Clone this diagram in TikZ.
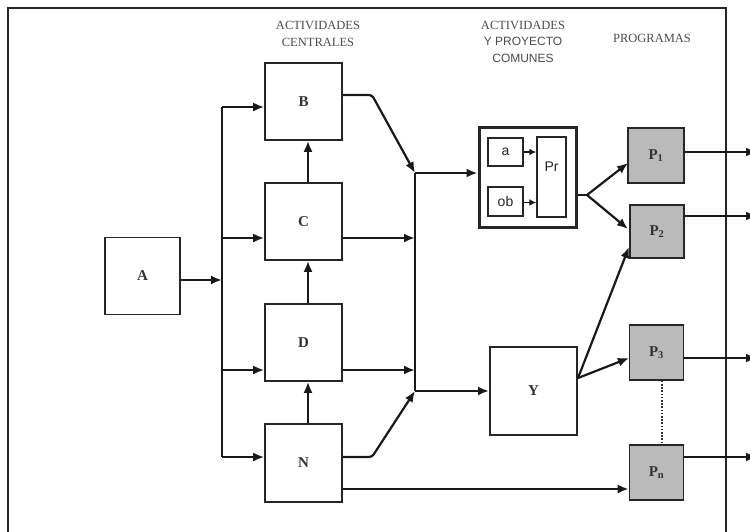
\documentclass[tikz,border=0pt]{standalone}
\usepackage{fontspec}
\setmainfont{Liberation Serif}
\newfontfamily\arialf{Liberation Sans}
\usetikzlibrary{arrows.meta}
\begin{document}
\begin{tikzpicture}[x=1pt,y=-1pt,
  blk/.style={draw=black!85,line width=1.6pt,fill=white,inner sep=0pt,
    font=\fontsize{15}{17}\selectfont\bfseries,text=black!80},
  prog/.style={blk,fill=black!27},
  inner/.style={draw=black!85,line width=1.5pt,fill=white,inner sep=0pt,
    font=\arialf\fontsize{14}{16}\selectfont,text=black!85},
  wire/.style={line width=2.2pt,black!90},
  conn/.style={wire,-{Latex[length=11pt,width=9pt]}},
  hdr/.style={text=black!70,align=center,font=\fontsize{12.5}{16.5}\selectfont}
]
\useasboundingbox (0,0) rectangle (750,531);
% frame
\draw[line width=2.2pt,black!85] (8,545) -- (8,8) -- (726,8) -- (726,545);
% headers
\node[hdr] (h1) at (318,34) {ACTIVIDADES\\CENTRALES};
\node[hdr] (h2) at (523,41.5) {ACTIVIDADES\\{\arialf\fontsize{12}{16.5}\selectfont Y PROYECTO}\\{\arialf\fontsize{12}{16.5}\selectfont COMUNES}};
\node[hdr] (h3) at (652,38) {PROGRAMAS};
% blocks
\node[blk,minimum width=75pt,minimum height=77pt] (A) at (142.5,276) {A};
\node[blk,minimum width=77pt,minimum height=77pt] (B) at (303.5,101.5) {B};
\node[blk,minimum width=77pt,minimum height=77pt] (C) at (303.5,221.5) {C};
\node[blk,minimum width=77pt,minimum height=77pt] (D) at (303.5,342.5) {D};
\node[blk,minimum width=77pt,minimum height=78pt] (N) at (303.5,463) {N};
\node[blk,line width=3pt,minimum width=97pt,minimum height=100pt] (Comp) at (527.5,177.5) {};
\node[inner,minimum width=35pt,minimum height=28pt] (a) at (505.5,152) {a};
\node[inner,minimum width=35pt,minimum height=29pt] (ob) at (505.5,201.5) {ob};
\node[inner,minimum width=29pt,minimum height=80pt] (Pr) at (551.5,177) {};
\node[font=\arialf\fontsize{14}{16}\selectfont,text=black!85,inner sep=0pt] (Prt) at (551.5,167) {Pr};
\node[blk,line width=2pt,minimum width=87pt,minimum height=88pt] (Y) at (533.5,391) {Y};
\node[prog,minimum width=56pt,minimum height=55pt] (P1) at (656,155.5) {P\textsubscript{1}};
\node[prog,minimum width=54pt,minimum height=53pt] (P2) at (657,231.5) {P\textsubscript{2}};
\node[prog,minimum width=54pt,minimum height=55pt] (P3) at (656.5,352.5) {P\textsubscript{3}};
\node[prog,minimum width=54pt,minimum height=55pt] (Pn) at (656.5,472.5) {P\textsubscript{n}};
% left bus
\coordinate (bt) at (222,107);
\coordinate (bc) at (222,238);
\coordinate (bd) at (222,370);
\coordinate (bn) at (222,457);
\coordinate (ba) at (222,280);
\draw[wire] (bt) -- (bn);
\draw[conn] (A.east |- ba) -- (ba);
\draw[conn] (bt) -- (bt -| B.west);
\draw[conn] (bc) -- (bc -| C.west);
\draw[conn] (bd) -- (bd -| D.west);
\draw[conn] (bn) -- (bn -| N.west);
% vertical chain
\draw[conn] ([xshift=4.5pt]C.north) -- ([xshift=4.5pt]B.south);
\draw[conn] ([xshift=4.5pt]D.north) -- ([xshift=4.5pt]C.south);
\draw[conn] ([xshift=4.5pt]N.north) -- ([xshift=4.5pt]D.south);
% right bus
\coordinate (j1) at (415,173);
\coordinate (j2) at (415,391);
\coordinate (jc) at (415,238);
\coordinate (jd) at (415,370);
\coordinate (kb) at (372,95);
\coordinate (kn) at (372,457);
\coordinate (nn) at (400,489);
\draw[wire] (j1) -- (j2);
\draw[conn,rounded corners=3pt] (B.east |- kb) -- (kb) -- (j1);
\draw[conn] (C.east |- jc) -- (jc);
\draw[conn] (D.east |- jd) -- (jd);
\draw[conn,rounded corners=3pt] (N.east |- kn) -- (kn) -- (j2);
\draw[conn] (N.east |- nn) -- (Pn.west |- nn);
\draw[conn] (j1) -- (j1 -| Comp.west);
\draw[conn] (j2) -- (j2 -| Y.west);
% inside composite
\draw[conn,line width=1.5pt,-{Latex[length=7pt,width=7pt]}] (a.east) -- (a.east -| Pr.west);
\draw[conn,line width=1.5pt,-{Latex[length=7pt,width=7pt]}] ([yshift=-1pt]ob.east) -- ([yshift=-1pt]ob.east -| Pr.west);
% fan to programs
\coordinate (f1) at (587,195);
\coordinate (t1) at (628,163);
\coordinate (t2) at (628,229);
\draw[wire] (Comp.east |- f1) -- (f1);
\draw[conn] (f1) -- (t1);
\draw[conn] (f1) -- (t2);
\coordinate (fy) at (577,378);
\coordinate (t2b) at (629,247);
\coordinate (t3) at (629,358);
\draw[conn] (Y.east |- fy) -- (t2b);
\draw[conn] (Y.east |- fy) -- (t3);
% dotted
\draw[line width=2pt,black!80,dash pattern=on 1.6pt off 1.6pt] ([xshift=5.5pt]P3.south) -- ([xshift=5.5pt]Pn.north);
% outputs
\coordinate (o1) at (757,152);
\coordinate (o2) at (757,216);
\coordinate (o3) at (757,358);
\coordinate (o4) at (757,457);
\draw[conn] (P1.east |- o1) -- (o1);
\draw[conn] (P2.east |- o2) -- (o2);
\draw[conn] (P3.east |- o3) -- (o3);
\draw[conn] (Pn.east |- o4) -- (o4);
\end{tikzpicture}
\end{document}
